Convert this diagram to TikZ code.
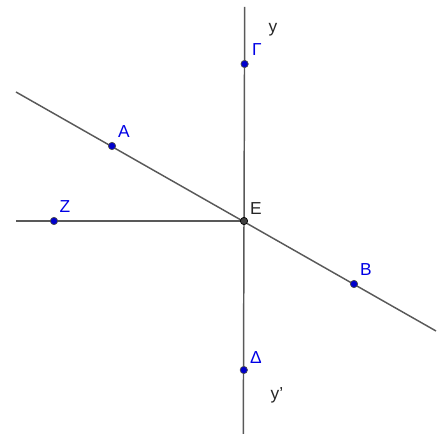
\documentclass[tikz,border=0pt]{standalone}
\usepackage{fontspec}
\setmainfont{Liberation Sans}
\begin{document}
\begin{tikzpicture}[x=0.75pt,y=-0.75pt,
  ln/.style={draw=black!65,line width=1.1pt},
  pt/.style={circle,fill=blue!80!black,draw=black!70,line width=0.5pt,inner sep=0pt,minimum size=5.5pt},
  ept/.style={circle,fill=black!75,draw=black,line width=0.5pt,inner sep=0pt,minimum size=5.5pt},
  lbl/.style={font=\fontsize{13}{13}\selectfont,text=blue!90!black,inner sep=0pt},
  blbl/.style={font=\fontsize{13}{13}\selectfont,text=black!85,inner sep=0pt}]
\useasboundingbox (0,0) rectangle (445,434);
% line ends
\coordinate (yt) at (244.7,7);
\coordinate (yb) at (243.3,434);
\coordinate (l1) at (16,92);
\coordinate (l2) at (436,331);
\coordinate (zl) at (16,221);
% lines
\draw[ln] (yt) -- (yb);
\draw[ln] (l1) -- (l2);
\draw[ln] (zl) -- (244,221);
% points
\node[pt] (G) at (244.6,64) {};
\node[pt] (A) at (112,146) {};
\node[pt] (Z) at (54,221) {};
\node[ept] (E) at (244,221) {};
\node[pt] (B) at (354,284) {};
\node[pt] (D) at (243.8,370) {};
% labels
\node[lbl] (Gl) at (257,50) {Γ};
\node[blbl] (yl) at (273,30) {y};
\node[lbl] (Al) at (124,132) {A};
\node[lbl] (Zl) at (65,207) {Z};
\node[blbl] (El) at (256,209) {E};
\node[lbl] (Bl) at (366,270) {B};
\node[lbl] (Dl) at (256,358) {Δ};
\node[blbl] (ypl) at (277,395) {y'};
\end{tikzpicture}
\end{document}
